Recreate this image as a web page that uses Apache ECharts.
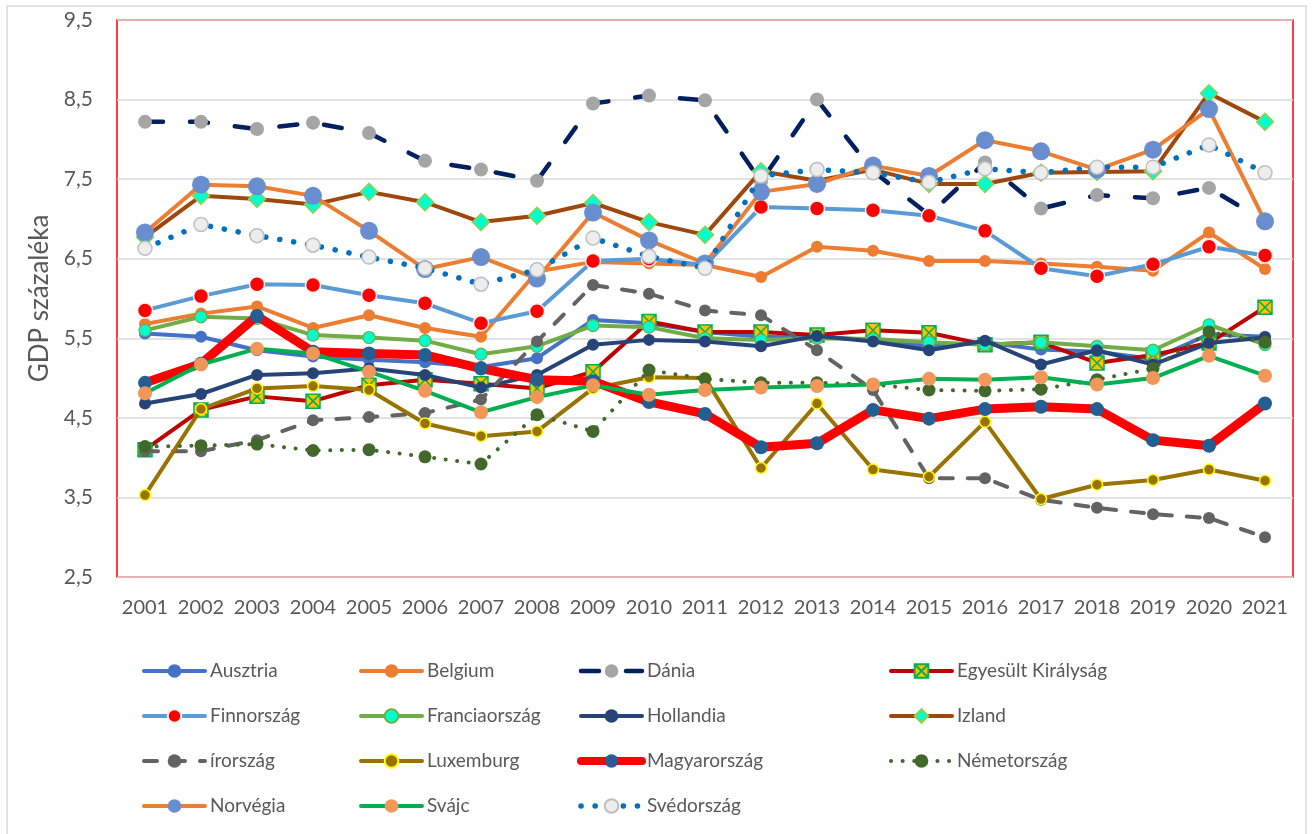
<!DOCTYPE html>
<html>
<head>
<meta charset="utf-8">
<script src="https://cdn.jsdelivr.net/npm/echarts@6/dist/echarts.min.js"></script>
<style>
  html, body { margin: 0; padding: 0; background: #fff; }
  #app { width: 1314px; height: 834px; }
</style>
</head>
<body>
<div id="app"></div>
<script>
const years = ['2001','2002','2003','2004','2005','2006','2007','2008','2009','2010','2011',
               '2012','2013','2014','2015','2016','2017','2018','2019','2020','2021'];
const yTicks = { min: 2.5, max: 9.5, step: 1 };

const ausztria   = [5.56,5.52,5.35,5.27,5.23,5.20,5.14,5.25,5.73,5.69,5.58,5.52,5.52,5.48,5.40,5.45,5.36,5.33,5.24,5.55,5.52];
const belgium    = [5.68,5.81,5.90,5.63,5.79,5.63,5.52,6.34,6.46,6.44,6.42,6.27,6.65,6.60,6.47,6.47,6.44,6.40,6.35,6.83,6.37];
const dania      = [8.22,8.22,8.13,8.21,8.08,7.73,7.62,7.48,8.45,8.55,8.49,7.47,8.50,7.60,7.05,7.71,7.13,7.30,7.26,7.39,6.97];
const egyesult   = [4.10,4.60,4.77,4.71,4.91,4.98,4.93,4.87,5.08,5.71,5.58,5.58,5.54,5.60,5.57,5.42,5.45,5.19,5.29,5.44,5.89];
const finn       = [5.85,6.03,6.18,6.17,6.04,5.94,5.69,5.84,6.47,6.50,6.42,7.15,7.13,7.11,7.04,6.85,6.38,6.28,6.43,6.65,6.54];
const francia    = [5.60,5.77,5.75,5.54,5.51,5.47,5.30,5.40,5.66,5.64,5.50,5.48,5.50,5.49,5.45,5.42,5.45,5.40,5.35,5.67,5.42];
const hollandia  = [4.68,4.80,5.04,5.06,5.12,5.04,4.88,5.04,5.42,5.48,5.46,5.40,5.53,5.46,5.35,5.47,5.17,5.35,5.17,5.44,5.51];
const izland     = [6.77,7.29,7.25,7.18,7.34,7.21,6.96,7.04,7.20,6.96,6.80,7.60,7.48,7.62,7.44,7.44,7.58,7.59,7.60,8.58,8.22];
const irorszag   = [4.08,4.08,4.22,4.47,4.51,4.56,4.73,5.46,6.17,6.06,5.85,5.79,5.35,4.85,3.74,3.74,3.47,3.37,3.29,3.24,3.00];
const luxemburg  = [3.53,4.61,4.87,4.90,4.85,4.43,4.27,4.33,4.87,5.01,5.00,3.87,4.68,3.85,3.76,4.45,3.48,3.66,3.72,3.85,3.71];
const magyar     = [4.94,5.18,5.78,5.33,5.31,5.29,5.12,4.98,4.96,4.70,4.55,4.13,4.18,4.60,4.49,4.61,4.64,4.61,4.22,4.15,4.68];
const nemet      = [4.14,4.15,4.17,4.09,4.10,4.01,3.92,4.54,4.33,5.10,4.99,4.94,4.94,4.92,4.85,4.84,4.86,4.98,5.12,5.58,5.45];
const norvegia   = [6.83,7.43,7.41,7.29,6.85,6.37,6.52,6.25,7.08,6.73,6.44,7.34,7.44,7.67,7.54,7.99,7.85,7.62,7.87,8.38,6.97];
const svajc      = [4.81,5.17,5.37,5.31,5.08,4.84,4.57,4.76,4.91,4.79,4.85,4.88,4.90,4.92,4.99,4.98,5.01,4.92,5.00,5.28,5.03];
const sved       = [6.63,6.93,6.79,6.67,6.52,6.38,6.18,6.36,6.76,6.53,6.38,7.54,7.62,7.58,7.46,7.63,7.58,7.65,7.65,7.93,7.58];

const legendCols = [
    ['Ausztria', 'Finnország', 'írország', 'Norvégia'],
    ['Belgium', 'Franciaország', 'Luxemburg', 'Svájc'],
    ['Dánia', 'Hollandia', 'Magyarország', 'Svédország'],
    ['Egyesült Királyság', 'Izland', 'Németország']
];
const legendLeft = [142, 359, 577, 889];

const FONT = 'Lato, "Liberation Sans", sans-serif';
const ukSymbol = 'path://M0,0 L10,0 L10,10 L0,10 Z M0,0 L10,10 M10,0 L0,10';

// name, data, line, marker
const defs = [
    ['Ausztria', ausztria, {color: '#4472C4', width: 4}, {symbol: 'circle', size: 12, color: '#4472C4'}],
    ['Belgium', belgium, {color: '#ED7D31', width: 4}, {symbol: 'circle', size: 12, color: '#ED7D31'}],
    ['Dánia', dania, {color: '#002060', width: 4.5, type: [18, 27]}, {symbol: 'circle', size: 14, color: '#A5A5A5'}],
    ['Egyesült Királyság', egyesult, {color: '#C00000', width: 4}, {symbol: ukSymbol, size: 14, color: '#FFC000', border: '#00B050', bw: 1.5}],
    ['Finnország', finn, {color: '#5B9BD5', width: 4}, {symbol: 'circle', size: 15, color: '#FF0000', border: '#F2F2F2', bw: 1.5}],
    ['Franciaország', francia, {color: '#70AD47', width: 4}, {symbol: 'circle', size: 12, color: '#00FFCC', border: '#70AD47', bw: 1.2}],
    ['Hollandia', hollandia, {color: '#264478', width: 4}, {symbol: 'circle', size: 12, color: '#264478'}],
    ['Izland', izland, {color: '#9E480E', width: 4}, {symbol: 'diamond', size: 17, color: '#00FFCC', border: '#92D050', bw: 1.5}],
    ['írország', irorszag, {color: '#636363', width: 4, type: [13, 15]}, {symbol: 'circle', size: 12, color: '#636363'}],
    ['Luxemburg', luxemburg, {color: '#997300', width: 4}, {symbol: 'circle', size: 11, color: '#997300', border: '#FFFF00', bw: 1.5}],
    ['Magyarország', magyar, {color: '#FF0000', width: 9}, {symbol: 'circle', size: 14, color: '#255E91'}],
    ['Németország', nemet, {color: '#43682B', width: 4, type: [0.1, 11.5]}, {symbol: 'circle', size: 13, color: '#43682B'}],
    ['Norvégia', norvegia, {color: '#ED7D31', width: 4}, {symbol: 'circle', size: 18, color: '#698ED0'}],
    ['Svájc', svajc, {color: '#00B050', width: 4}, {symbol: 'circle', size: 14, color: '#F1975A'}],
    ['Svédország', sved, {color: '#0070C0', width: 5.5, type: [0.1, 14]}, {symbol: 'circle', size: 14, color: '#EDEDED', border: '#BFBFBF', bw: 1.5}]
];

const series = defs.map(([name, data, line, mk], i) => ({
    name: name,
    type: 'line',
    data: data,
    z: 3 + i,
    symbol: mk.symbol,
    symbolSize: mk.size,
    showSymbol: true,
    lineStyle: {color: line.color, width: line.width, type: line.type || 'solid', cap: 'round', join: 'round'},
    itemStyle: {color: mk.color, borderColor: mk.border || mk.color, borderWidth: mk.bw || 0},
    emphasis: {disabled: true}
}));

// legend lines keep the series' own line width
const lineWidthOf = name => {
    const d = defs.find(x => x[0] === name);
    return Math.min(d[2].width, 8);
};

const legends = legendCols.map((names, c) => ({
    data: names.map(n => ({name: n, lineStyle: {width: lineWidthOf(n)}})),
    orient: 'vertical',
    left: legendLeft[c],
    top: 660,
    padding: 0,
    itemWidth: 61,
    itemHeight: 17,
    itemGap: 23,
    selectedMode: false,
    textStyle: {fontFamily: FONT, fontSize: 19, color: '#595959', lineHeight: 22}
}));

const chart = echarts.init(document.getElementById('app'));
chart.setOption({
    animation: false,
    backgroundColor: '#fff',
    graphic: [{
        type: 'rect', z: -10,
        shape: {x: 7, y: 6, width: 1299, height: 860},
        style: {fill: 'none', stroke: '#D9D9D9', lineWidth: 1.5}
    }],
    grid: {left: 117, top: 20, right: 21, bottom: 257, show: true, borderColor: '#FF0000', borderWidth: 1.5},
    legend: legends,
    xAxis: {
        type: 'category',
        data: years,
        boundaryGap: true,
        axisTick: {show: false},
        axisLine: {lineStyle: {color: '#E6B8B7', width: 1}},
        axisLabel: {color: '#595959', fontFamily: FONT, fontSize: 20, margin: 21, interval: 0}
    },
    yAxis: {
        type: 'value',
        min: yTicks.min,
        max: yTicks.max,
        interval: yTicks.step,
        name: 'GDP százaléka',
        nameLocation: 'middle',
        nameGap: 62,
        nameTextStyle: {color: '#595959', fontFamily: FONT, fontSize: 26},
        axisLine: {show: false},
        axisTick: {show: false},
        splitLine: {lineStyle: {color: '#D9D9D9', width: 1.5}},
        axisLabel: {
            color: '#595959', fontFamily: FONT, fontSize: 21, margin: 24,
            formatter: v => v.toFixed(1).replace('.', ',')
        }
    },
    series: series
});
</script>
</body>
</html>
